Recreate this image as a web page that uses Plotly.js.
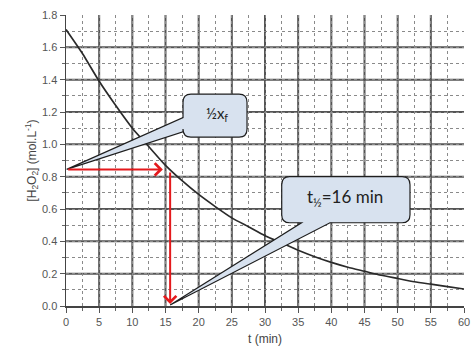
<!DOCTYPE html>
<html>
<head>
<meta charset="utf-8">
<script src="https://cdn.plot.ly/plotly-3.0.1.min.js"></script>
<style>html,body{margin:0;padding:0;background:#fff;}#chart{width:471px;height:352px;}</style>
</head>
<body>
<div id="chart"></div>
<script>
// Data
const timeMin = [0, 2.5, 5, 7.5, 10, 12.5, 15, 17.5, 20, 22.5, 25, 27.5, 30, 32.5, 35, 37.5, 40, 42.5, 45, 47.5, 50, 52.5, 55, 57.5, 60];
const h2o2Conc = [1.71, 1.56, 1.39, 1.24, 1.10, 0.985, 0.87, 0.775, 0.69, 0.615, 0.545, 0.49, 0.435, 0.39, 0.345, 0.305, 0.27, 0.24, 0.215, 0.19, 0.17, 0.15, 0.135, 0.12, 0.105];
const xTickVals = [0, 5, 10, 15, 20, 25, 30, 35, 40, 45, 50, 55, 60];
const yTickVals = [0.0, 0.2, 0.4, 0.6, 0.8, 1.0, 1.2, 1.4, 1.6, 1.8];
const yTickText = ["0.0", "0.2", "0.4", "0.6", "0.8", "1.0", "1.2", "1.4", "1.6", "1.8"];
const xGridVals = [5, 10, 15, 20, 25, 30, 35, 40, 45, 50, 55];
const yGridVals = [0.2, 0.4, 0.6, 0.8, 1.0, 1.2, 1.4, 1.6];
const halfConc = 0.845;   // ½ x_f
const halfTime = 15.7;    // t½
const calloutHalfText = "½x<sub>f</sub>";
const calloutTimeText = "t<sub>½</sub>=16 min";

function callout(x0, x1, yb, yt, rx, ry, tail) {
  let p = `M${x0 + rx},${yt} L${x1 - rx},${yt} Q${x1},${yt} ${x1},${yt - ry} L${x1},${yb + ry} Q${x1},${yb} ${x1 - rx},${yb} `;
  if (tail.side === 'bottom') {
    p += `L${tail.b},${yb} L${tail.tipX},${tail.tipY} L${tail.a},${yb} `;
  }
  p += `L${x0 + rx},${yb} Q${x0},${yb} ${x0},${yb + ry} `;
  if (tail.side === 'left') {
    p += `L${x0},${tail.a} L${tail.tipX},${tail.tipY} L${x0},${tail.b} `;
  }
  p += `L${x0},${yt - ry} Q${x0},${yt} ${x0 + rx},${yt} Z`;
  return p;
}

const gridLine = {color: '#555', width: 2};
const shapes = [];
xGridVals.forEach(v => shapes.push({type: 'line', xref: 'x', yref: 'paper', x0: v, x1: v, y0: 0, y1: 1, layer: 'below', line: gridLine}));
yGridVals.forEach(v => shapes.push({type: 'line', xref: 'paper', yref: 'y', x0: 0, x1: 1, y0: v, y1: v, layer: 'below', line: gridLine}));

const boxFill = '#d8e2ef';
const boxLine = {color: '#1e1e1e', width: 1.2};
shapes.push(
  {type: 'path', xref: 'x', yref: 'y', layer: 'above', fillcolor: boxFill, line: boxLine,
   path: callout(17.64, 27.29, 1.045, 1.311, 1.2, 0.05, {side: 'left', a: 1.078, b: 1.165, tipX: 0.1, tipY: halfConc})},
  {type: 'path', xref: 'x', yref: 'y', layer: 'above', fillcolor: boxFill, line: boxLine,
   path: callout(32.52, 51.86, 0.515, 0.80, 1.2, 0.05, {side: 'bottom', a: 35.5, b: 39.8, tipX: halfTime, tipY: 0.006})}
);

const red = '#e4191c';
const annotations = [
  {x: 14.6, y: halfConc, ax: 0.1, ay: halfConc, xref: 'x', yref: 'y', axref: 'x', ayref: 'y',
   showarrow: true, arrowhead: 4, arrowsize: 1.2, arrowwidth: 2, arrowcolor: red, text: ''},
  {x: halfTime, y: 0.012, ax: halfTime, ay: 0.835, xref: 'x', yref: 'y', axref: 'x', ayref: 'y',
   showarrow: true, arrowhead: 4, arrowsize: 1.2, arrowwidth: 2, arrowcolor: red, text: ''},
  {x: 22.8, y: 1.19, xref: 'x', yref: 'y', showarrow: false, text: calloutHalfText,
   font: {family: 'Lato, "Open Sans", sans-serif', size: 15, color: '#222'}},
  {x: 42.1, y: 0.665, xref: 'x', yref: 'y', showarrow: false, text: calloutTimeText,
   font: {family: 'Lato, "Open Sans", sans-serif', size: 17, color: '#222'}}
];

const axisFont = {family: '"Liberation Sans", Arial, sans-serif', size: 11, color: '#555'};
const titleFont = {family: '"Liberation Sans", Arial, sans-serif', size: 12, color: '#444'};

const data = [{
  x: timeMin, y: h2o2Conc, type: 'scatter', mode: 'lines',
  line: {color: '#2a2a2a', width: 1.7, shape: 'spline', smoothing: 0.6},
  hoverinfo: 'skip', showlegend: false
}];

const layout = {
  width: 471, height: 352,
  margin: {l: 66, r: 7, t: 15, b: 46},
  paper_bgcolor: '#fff', plot_bgcolor: '#fff',
  showlegend: false,
  font: axisFont,
  xaxis: {
    range: [0, 60], tickvals: xTickVals, ticktext: xTickVals.map(String),
    ticks: 'outside', ticklen: 5, tickwidth: 1, tickcolor: '#555',
    showline: true, linecolor: '#444', linewidth: 1.5,
    showgrid: false, zeroline: false, tickfont: axisFont,
    minor: {dtick: 2.5, tick0: 0, ticks: 'outside', ticklen: 3, tickcolor: '#666', showgrid: true, gridcolor: '#8a8a8a', griddash: 'dot', gridwidth: 1},
    title: {text: 't (min)', font: titleFont, standoff: 8}
  },
  yaxis: {
    range: [0, 1.8], tickvals: yTickVals, ticktext: yTickText,
    ticks: 'outside', ticklen: 5, tickwidth: 1, tickcolor: '#555',
    showline: true, linecolor: '#444', linewidth: 1.5,
    showgrid: false, zeroline: false, tickfont: axisFont,
    minor: {dtick: 0.1, tick0: 0, ticks: 'outside', ticklen: 3, tickcolor: '#666', showgrid: true, gridcolor: '#8a8a8a', griddash: 'dot', gridwidth: 1},
    title: {text: '[H<sub>2</sub>O<sub>2</sub>] (mol.L<sup>-1</sup>)', font: titleFont, standoff: 3}
  },
  shapes: shapes,
  annotations: annotations
};

Plotly.newPlot('chart', data, layout, {displayModeBar: false, staticPlot: true});
</script>
</body>
</html>
